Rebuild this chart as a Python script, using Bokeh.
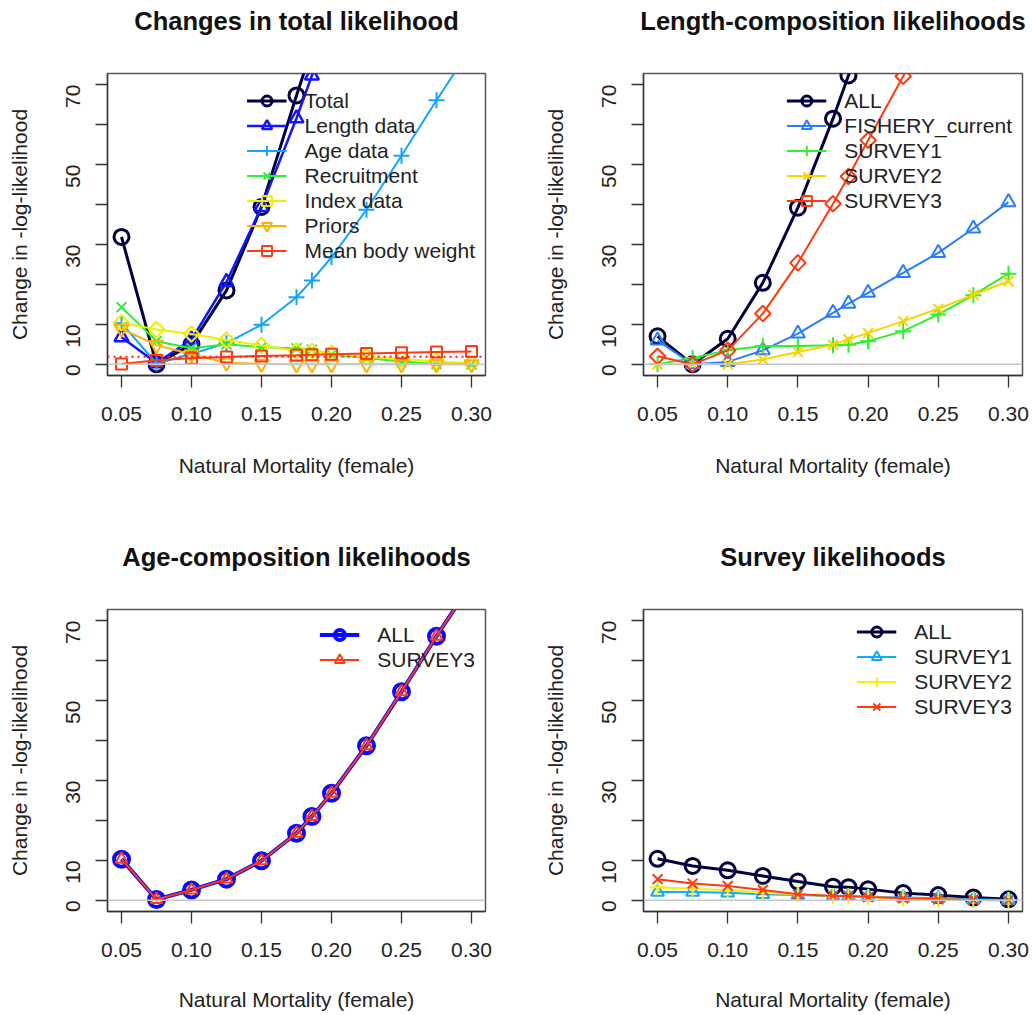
import math
from bokeh.plotting import figure
from bokeh.models import Range1d, FixedTicker, Span, Legend, LegendItem, LinearAxis
from bokeh.layouts import column, row
from bokeh.embed import file_html
from bokeh.resources import INLINE

# ---------------- data ----------------
M = [0.05, 0.075, 0.1, 0.125, 0.15, 0.175, 0.186, 0.2, 0.225, 0.25, 0.275, 0.3]

x_ticks = [0.05, 0.10, 0.15, 0.20, 0.25, 0.30]
x_tick_labels = ["0.05", "0.10", "0.15", "0.20", "0.25", "0.30"]
y_ticks = [0, 10, 20, 30, 40, 50, 60, 70]
y_tick_labels = ["0", "10", "", "30", "", "50", "", "70"]

# Panel 1: Changes in total likelihood
total = [31.9, 0.0, 5.0, 18.5, 39.4, 67.3, 79.0, 95.0, 128.0, 166.0, 208.0, 254.0]
length_data = [6.8, 0.3, 6.2, 20.6, 39.4, 61.6, 72.3, 86.0, 114.0, 144.0, 177.0, 212.0]
age_data = [10.3, 0.2, 2.6, 5.3, 9.9, 16.8, 21.0, 26.8, 38.7, 52.2, 66.1, 79.4]
recruitment = [14.3, 5.8, 4.0, 5.0, 4.3, 4.0, 3.7, 2.4, 1.6, 0.7, 0.1, 0.0]
index_data = [10.4, 8.7, 7.6, 6.1, 4.7, 3.4, 3.3, 2.8, 1.8, 1.3, 0.7, 0.25]
priors = [8.9, 4.8, 2.5, 0.4, 0.1, 0.0, 0.0, 0.0, 0.0, 0.0, 0.0, 0.0]
mean_body_weight = [0.1, 1.0, 1.5, 1.8, 2.1, 2.3, 2.4, 2.5, 2.7, 2.9, 3.1, 3.2]
threshold = 1.92

# Panel 2: Length-composition likelihoods
len_all = [7.0, 0.0, 6.4, 20.4, 39.2, 61.5, 72.3, 86.0, 114.0, 144.0, 177.0, 212.0]
len_fishery = [6.0, 0.0, 0.6, 3.5, 7.7, 12.9, 15.2, 17.9, 22.9, 27.9, 34.0, 40.6]
len_survey1 = [0.0, 1.6, 3.5, 4.6, 4.6, 4.8, 4.9, 5.8, 8.3, 12.5, 17.3, 22.7]
len_survey2 = [0.0, 0.0, 0.0, 1.2, 3.1, 4.9, 6.3, 7.8, 10.8, 13.9, 17.4, 20.8]
len_survey3 = [2.0, 0.0, 3.5, 12.7, 25.4, 40.2, 47.0, 56.1, 72.1, 90.0, 108.0, 128.0]

# Panel 3: Age-composition likelihoods
age_all = [10.3, 0.2, 2.6, 5.3, 9.9, 16.8, 21.0, 26.8, 38.7, 52.2, 66.1, 79.4]
age_survey3 = [10.3, 0.2, 2.6, 5.3, 9.9, 16.8, 21.0, 26.8, 38.7, 52.2, 66.1, 79.4]

# Panel 4: Survey likelihoods
surv_all = [10.4, 8.6, 7.5, 6.1, 4.7, 3.4, 3.3, 2.8, 1.8, 1.3, 0.7, 0.25]
surv_survey1 = [2.1, 2.1, 1.9, 1.5, 1.3, 1.1, 1.0, 0.9, 0.7, 0.5, 0.25, 0.1]
surv_survey2 = [3.3, 2.9, 2.5, 1.9, 1.5, 1.1, 1.0, 0.8, 0.5, 0.25, 0.1, 0.0]
surv_survey3 = [5.3, 4.2, 3.6, 2.6, 1.5, 1.1, 1.1, 0.8, 0.5, 0.25, 0.1, 0.0]

# ---------------- styling ----------------
FONT = "Liberation Sans"
NAVY = "#00003f"
AXC = "#333333"


def make_panel(title, series, width, height, bl, br, bt, bb, xlab_standoff, leg_shift,
               extra_spans=()):
    p = figure(width=width, height=height,
               x_range=Range1d(0.04, 0.31), y_range=Range1d(-2.8, 72.8),
               output_backend="svg", toolbar_location=None,
               min_border_left=bl, min_border_right=br,
               min_border_top=bt, min_border_bottom=bb)
    p.background_fill_color = "white"
    p.border_fill_color = "white"
    p.outline_line_color = "#555555"
    p.outline_line_width = 1.5
    p.xgrid.visible = False
    p.ygrid.visible = False

    xa = p.xaxis[0]
    xa.ticker = FixedTicker(ticks=x_ticks)
    xa.major_label_overrides = dict(zip(x_ticks, x_tick_labels))
    xa.axis_label = "Natural Mortality (female)"
    xa.axis_label_standoff = xlab_standoff

    ya = p.yaxis[0]
    ya.ticker = FixedTicker(ticks=y_ticks)
    ya.major_label_overrides = dict(zip(y_ticks, y_tick_labels))
    ya.major_label_orientation = math.pi / 2
    ya.axis_label = "Change in -log-likelihood"
    ya.axis_label_standoff = 26

    for ax in (xa, ya):
        ax.axis_line_color = AXC
        ax.axis_line_width = 1.3
        ax.major_tick_line_color = AXC
        ax.major_tick_line_width = 1.3
        ax.major_tick_out = 12
        ax.major_tick_in = 0
        ax.minor_tick_out = 0
        ax.minor_tick_in = 0
        ax.major_label_text_font = FONT
        ax.major_label_text_font_size = "21px"
        ax.major_label_text_color = "#222222"
        ax.axis_label_text_font = FONT
        ax.axis_label_text_font_size = "21px"
        ax.axis_label_text_font_style = "normal"
        ax.axis_label_text_color = "#222222"
    xa.major_label_standoff = 19
    ya.major_label_standoff = 22

    # title drawn as the label of an empty axis above the frame
    ta = LinearAxis(ticker=FixedTicker(ticks=[]), axis_label=title,
                    axis_line_color=None, major_tick_line_color=None,
                    minor_tick_line_color=None, major_tick_out=0, major_tick_in=0,
                    minor_tick_out=0, minor_tick_in=0,
                    major_label_text_font_size="0px")
    ta.axis_label_text_font = FONT
    ta.axis_label_text_font_size = "25.5px"
    ta.axis_label_text_font_style = "bold"
    ta.axis_label_text_color = "#111111"
    ta.axis_label_standoff = 39
    p.add_layout(ta, "above")

    p.add_layout(Span(location=0, dimension="width", line_color="#c8c8c8", line_width=1.5))
    for loc, col, dash in extra_spans:
        p.add_layout(Span(location=loc, dimension="width", line_color=col,
                          line_width=2, line_dash=dash))

    items = []
    for label, vals, color, marker, lw, size, angle in series:
        ln = p.line(M, vals, line_color=color, line_width=lw)
        sc = p.scatter(M, vals, marker=marker, size=size, angle=angle,
                       line_color=color, line_width=lw, fill_color=None)
        items.append(LegendItem(label=label, renderers=[ln, sc]))

    leg = Legend(items=items, location="top_right")
    leg.label_text_font = FONT
    leg.label_text_font_size = "21px"
    leg.label_text_color = "#222222"
    leg.glyph_width = 40
    leg.glyph_height = 25
    leg.label_height = 25
    leg.spacing = 0
    leg.label_standoff = 18
    leg.padding = 5
    leg.margin = 5
    leg.border_line_alpha = 0
    leg.background_fill_alpha = 0
    if leg_shift > 0:
        leg.title = " "
        leg.title_text_font_size = "2px"
        leg.title_standoff = leg_shift
    p.add_layout(leg)
    return p


D = math.pi / 4
p1 = make_panel("Changes in total likelihood", [
    ("Total", total, NAVY, "circle", 3, 15, 0),
    ("Length data", length_data, "#1414ff", "triangle", 2.5, 14, 0),
    ("Age data", age_data, "#12a4ff", "cross", 2, 16, 0),
    ("Recruitment", recruitment, "#2cee3c", "x", 2, 14, 0),
    ("Index data", index_data, "#eeee00", "square", 2, 11, D),
    ("Priors", priors, "#ffb000", "inverted_triangle", 2, 14, 0),
    ("Mean body weight", mean_body_weight, "#ff3a12", "square", 2, 11, 0),
], 516, 508, 107, 31, 73, 133, 30, 3, extra_spans=[(threshold, "#ff2020", "2 4")])

p2 = make_panel("Length-composition likelihoods", [
    ("ALL", len_all, NAVY, "circle", 3, 15, 0),
    ("FISHERY_current", len_fishery, "#2a7cff", "triangle", 2, 14, 0),
    ("SURVEY1", len_survey1, "#2ef02e", "cross", 2, 16, 0),
    ("SURVEY2", len_survey2, "#f8d400", "x", 2, 14, 0),
    ("SURVEY3", len_survey3, "#ff3a12", "square", 2, 11, D),
], 516, 508, 127, 10, 73, 133, 30, 3)

p3 = make_panel("Age-composition likelihoods", [
    ("ALL", age_all, "#0a0aff", "circle", 4, 15, 0),
    ("SURVEY3", age_survey3, "#ff3a12", "triangle", 2, 12, 0),
], 516, 506, 107, 31, 101, 103, 28, 1)

p4 = make_panel("Survey likelihoods", [
    ("ALL", surv_all, NAVY, "circle", 3, 15, 0),
    ("SURVEY1", surv_survey1, "#12aaff", "triangle", 2, 13, 0),
    ("SURVEY2", surv_survey2, "#f4f400", "cross", 2, 16, 0),
    ("SURVEY3", surv_survey3, "#ff3a12", "x", 2, 14, 0),
], 516, 506, 127, 10, 101, 103, 28, 0)

layout = column(row(p1, p2), row(p3, p4))
open("out.html", "w").write(file_html(layout, INLINE))
